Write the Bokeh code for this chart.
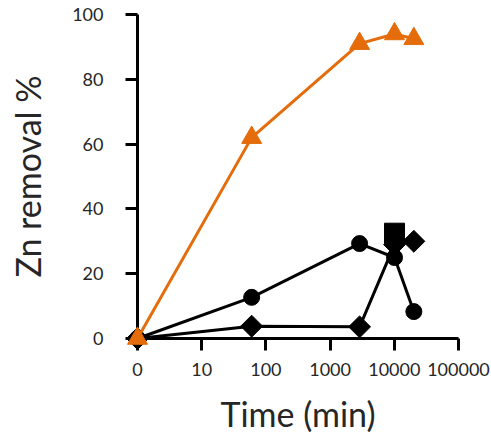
from bokeh.plotting import figure
from bokeh.models import Range1d, FixedTicker
from bokeh.embed import file_html
from bokeh.resources import INLINE
import math

# Data (time 0 is drawn at the log-axis origin, labelled "0")
time_min = [0, 60, 2880, 10080, 20160]
triangle_removal = [0, 62, 91, 94, 92.5]
circle_removal = [0, 12.7, 29.3, 25, 8.3]
diamond_removal = [0, 3.8, 3.6, 29, 30]
square_time = [10080]
square_removal = [32.5]

x_ticks = [1, 10, 100, 1000, 10000, 100000]
x_tick_labels = ["0", "10", "100", "1000", "10000", "100000"]
y_ticks = [0, 20, 40, 60, 80, 100]

x_pos = [max(t, 1) for t in time_min]
sq_pos = [max(t, 1) for t in square_time]

ORANGE = "#E46C0A"
TXT = "#262626"
FONT = "Lato"

p = figure(width=490, height=439, x_axis_type="log",
           x_range=Range1d(1, 100000), y_range=Range1d(0, 100),
           output_backend="svg", toolbar_location=None,
           min_border_left=137, min_border_right=32,
           min_border_top=14, min_border_bottom=101)
p.outline_line_color = None
p.grid.grid_line_color = None
p.background_fill_color = "white"
p.border_fill_color = "white"

renderers = []
renderers.append(p.line(x_pos, circle_removal, line_color="black", line_width=3))
renderers.append(p.line(x_pos, diamond_removal, line_color="black", line_width=3))
renderers.append(p.scatter(x_pos, circle_removal, marker="circle", size=16,
                           fill_color="black", line_color="black"))
renderers.append(p.scatter(x_pos, diamond_removal, marker="square", angle=math.pi / 4,
                           size=15.5, fill_color="black", line_color="black"))
renderers.append(p.scatter(sq_pos, square_removal, marker="square", size=20,
                           fill_color="black", line_color="black"))
renderers.append(p.line(x_pos, triangle_removal, line_color=ORANGE, line_width=3))
renderers.append(p.scatter(x_pos, triangle_removal, marker="triangle", size=20,
                           fill_color=ORANGE, line_color=ORANGE))
for r in renderers:
    r.level = "overlay"

for ax in (p.xaxis, p.yaxis):
    ax.axis_line_width = 3
    ax.axis_line_color = "black"
    ax.major_tick_line_width = 3
    ax.major_tick_line_color = "black"
    ax.major_tick_in = 0
    ax.major_tick_out = 12
    ax.minor_tick_line_color = None
    ax.major_label_text_font = FONT
    ax.major_label_text_font_size = "18px"
    ax.major_label_text_color = TXT
    ax.axis_label_text_font = FONT
    ax.axis_label_text_font_size = "34px"
    ax.axis_label_text_font_style = "normal"
    ax.axis_label_text_color = TXT

p.xaxis.ticker = FixedTicker(ticks=x_ticks)
p.xaxis.major_label_overrides = {t: lab for t, lab in zip(x_ticks, x_tick_labels)}
p.xaxis.major_label_standoff = 12
p.xaxis.axis_label = "Time (min)"
p.xaxis.axis_label_standoff = 14

p.yaxis.ticker = FixedTicker(ticks=y_ticks)
p.yaxis.major_label_standoff = 22
p.yaxis.axis_label = "Zn removal %"
p.yaxis.axis_label_standoff = 21

open("out.html", "w").write(file_html(p, INLINE))
